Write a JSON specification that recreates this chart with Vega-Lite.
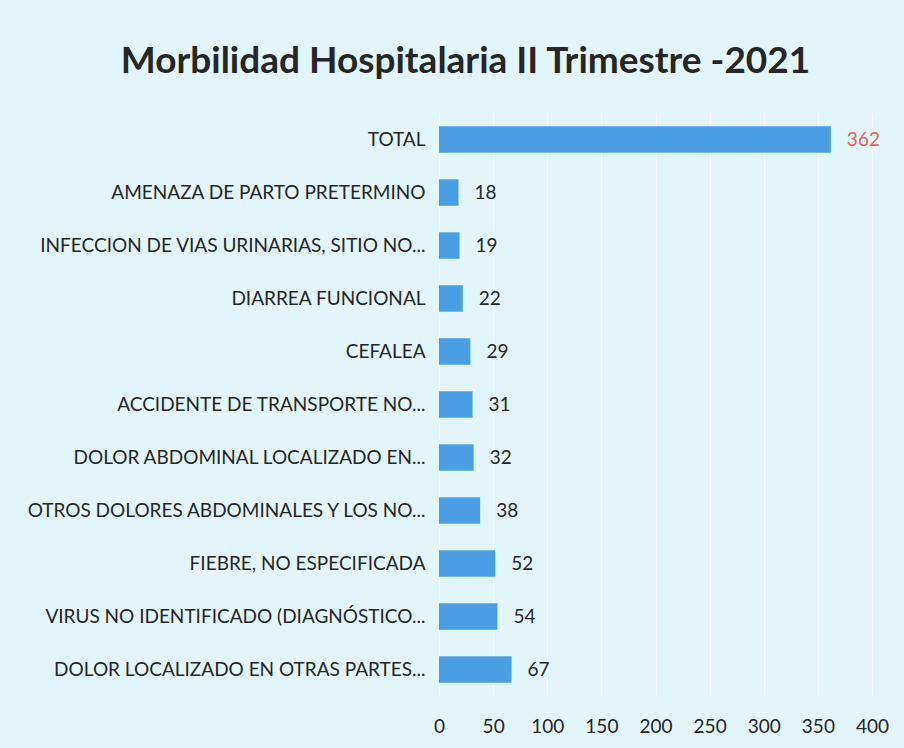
{
  "$schema": "https://vega.github.io/schema/vega-lite/v6.json",
  "autosize": "none",
  "width": 433,
  "height": 583,
  "padding": {"left": 439, "top": 113, "right": 32, "bottom": 52},
  "background": "#e2f6f9",
  "title": {
    "text": "Morbilidad Hospitalaria II Trimestre -2021",
    "anchor": "middle",
    "frame": "group",
    "dx": -190,
    "offset": 32,
    "font": "Lato",
    "fontSize": 37,
    "fontWeight": "bold",
    "color": "#262626"
  },
  "data": {
    "values": [
      {"causa": "TOTAL", "casos": 362, "orden": 0, "tipo": "total"},
      {"causa": "AMENAZA DE PARTO PRETERMINO", "casos": 18, "orden": 1, "tipo": "causa"},
      {"causa": "INFECCION DE VIAS URINARIAS, SITIO NO...", "casos": 19, "orden": 2, "tipo": "causa"},
      {"causa": "DIARREA FUNCIONAL", "casos": 22, "orden": 3, "tipo": "causa"},
      {"causa": "CEFALEA", "casos": 29, "orden": 4, "tipo": "causa"},
      {"causa": "ACCIDENTE DE TRANSPORTE NO...", "casos": 31, "orden": 5, "tipo": "causa"},
      {"causa": "DOLOR ABDOMINAL LOCALIZADO EN...", "casos": 32, "orden": 6, "tipo": "causa"},
      {"causa": "OTROS DOLORES ABDOMINALES Y LOS NO...", "casos": 38, "orden": 7, "tipo": "causa"},
      {"causa": "FIEBRE, NO ESPECIFICADA", "casos": 52, "orden": 8, "tipo": "causa"},
      {"causa": "VIRUS NO IDENTIFICADO (DIAGNÓSTICO...", "casos": 54, "orden": 9, "tipo": "causa"},
      {"causa": "DOLOR LOCALIZADO EN OTRAS PARTES...", "casos": 67, "orden": 10, "tipo": "causa"}
    ]
  },
  "encoding": {
    "y": {
      "field": "causa",
      "type": "nominal",
      "sort": {"field": "orden", "order": "ascending"},
      "title": null,
      "scale": {"paddingInner": 0.5, "paddingOuter": 0.25},
      "axis": {
        "domain": false,
        "ticks": false,
        "labelPadding": 14,
        "labelFont": "Lato",
        "labelFontSize": 19,
        "labelColor": "#262626",
        "labelLimit": 0
      }
    },
    "x": {
      "field": "casos",
      "type": "quantitative",
      "title": null,
      "scale": {"domain": [0, 400], "nice": false},
      "axis": {
        "values": [0, 50, 100, 150, 200, 250, 300, 350, 400],
        "domain": false,
        "ticks": false,
        "grid": true,
        "gridColor": "#ffffff",
        "gridOpacity": 0.6,
        "labelFlush": false,
        "labelOverlap": false,
        "labelPadding": 21,
        "labelFont": "Lato",
        "labelFontSize": 19,
        "labelColor": "#262626"
      }
    }
  },
  "layer": [
    {"mark": {"type": "bar", "color": "#4a9fe4"}},
    {
      "mark": {"type": "text", "align": "left", "baseline": "middle", "dx": 16, "font": "Lato", "fontSize": 19},
      "encoding": {
        "text": {"field": "casos", "type": "quantitative"},
        "color": {
          "field": "tipo",
          "type": "nominal",
          "scale": {"domain": ["total", "causa"], "range": ["#f05a5a", "#262626"]},
          "legend": null
        }
      }
    }
  ],
  "config": {"view": {"stroke": null}}
}
